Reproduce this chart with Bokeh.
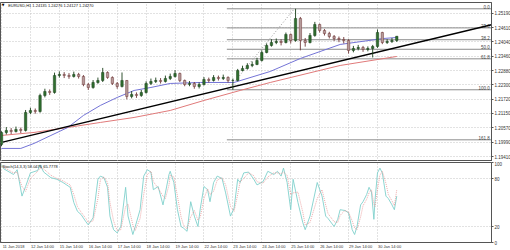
from bokeh.plotting import figure
from bokeh.models import Range1d, FixedTicker, Grid, Label, PrintfTickFormatter
from bokeh.layouts import column
from bokeh.embed import file_html
from bokeh.resources import INLINE
from bokeh.core.properties import value

# ---------------- data ----------------
# hour index since first bar (11 Jan 2018 14:00), one candle per 4 hours
bar_hours = [4 * i for i in range(83)]
first_open = 1.19900
closes = [1.20382, 1.20463, 1.20423, 1.20504, 1.20463, 1.21190, 1.21271, 1.21231, 1.21877, 1.22039,
          1.21998, 1.22685, 1.22726, 1.22685, 1.22645, 1.22726, 1.22645, 1.22322, 1.22200, 1.22402,
          1.22483, 1.22806, 1.22604, 1.22362, 1.22241, 1.22483, 1.21837, 1.21918, 1.21877, 1.21998,
          1.22362, 1.22443, 1.22483, 1.22443, 1.22564, 1.22645, 1.22766, 1.22483, 1.22322, 1.22362,
          1.22241, 1.22322, 1.22524, 1.22483, 1.22604, 1.22564, 1.22604, 1.22483, 1.22483, 1.22887,
          1.22968, 1.23089, 1.23130, 1.23291, 1.23614, 1.23897, 1.24018, 1.24059, 1.24018, 1.24342,
          1.24099, 1.24988, 1.24099, 1.24018, 1.24301, 1.24746, 1.24503, 1.24382, 1.24261, 1.24180,
          1.24140, 1.24099, 1.23695, 1.23776, 1.23816, 1.23736, 1.23776, 1.23857, 1.24422, 1.24018,
          1.24059, 1.24099, 1.24270]
highs = [1.20430, 1.20600, 1.20560, 1.20620, 1.20580, 1.21290, 1.21380, 1.21350, 1.21950, 1.22150,
         1.22120, 1.22800, 1.22850, 1.22820, 1.22780, 1.22840, 1.22790, 1.22700, 1.22380, 1.22500,
         1.22600, 1.22990, 1.22850, 1.22650, 1.22420, 1.22806, 1.22500, 1.22050, 1.22000, 1.22100,
         1.22450, 1.22560, 1.22600, 1.22580, 1.22680, 1.22760, 1.22900, 1.22800, 1.22520, 1.22460,
         1.22420, 1.22400, 1.22620, 1.22600, 1.22700, 1.22680, 1.22720, 1.22650, 1.22560, 1.22950,
         1.23080, 1.23180, 1.23250, 1.23400, 1.23700, 1.23980, 1.24150, 1.24180, 1.24150, 1.24420,
         1.24380, 1.25380, 1.25050, 1.24200, 1.24400, 1.24850, 1.24780, 1.24560, 1.24450, 1.24320,
         1.24260, 1.24240, 1.24150, 1.23880, 1.23920, 1.23880, 1.23860, 1.23920, 1.24543, 1.24450,
         1.24150, 1.24200, 1.24276]
lows = [1.19830, 1.20300, 1.20320, 1.20380, 1.20360, 1.20420, 1.21120, 1.21140, 1.21180, 1.21800,
        1.21900, 1.21950, 1.22600, 1.22580, 1.22550, 1.22600, 1.22560, 1.22250, 1.22100, 1.22150,
        1.22350, 1.22420, 1.22550, 1.22300, 1.22150, 1.22200, 1.21720, 1.21760, 1.21780, 1.21820,
        1.21950, 1.22300, 1.22380, 1.22360, 1.22400, 1.22500, 1.22600, 1.22420, 1.22250, 1.22250,
        1.22150, 1.22160, 1.22280, 1.22400, 1.22440, 1.22480, 1.22500, 1.22400, 1.22107, 1.22450,
        1.22850, 1.22920, 1.23020, 1.23100, 1.23250, 1.23580, 1.23850, 1.23950, 1.23900, 1.23980,
        1.23978, 1.24050, 1.23700, 1.23850, 1.23980, 1.24250, 1.24420, 1.24300, 1.24180, 1.24080,
        1.24030, 1.23980, 1.23570, 1.23620, 1.23700, 1.23640, 1.23660, 1.23412, 1.23800, 1.23950,
        1.23960, 1.24000, 1.24040]

blue_ma_hours = [0, 16, 27, 41, 55, 68, 82, 96, 110, 124, 140, 165, 193, 223, 248, 281, 317, 328]
blue_ma = [1.19736, 1.19736, 1.19938, 1.20261, 1.20584, 1.21069, 1.21473, 1.21796, 1.22079, 1.22200,
           1.22362, 1.22402, 1.22402, 1.22847, 1.23372, 1.23938, 1.24180, 1.24220]
red_ma_hours = [0, 27, 55, 82, 110, 140, 168, 198, 223, 281, 328]
red_ma = [1.20261, 1.20382, 1.20584, 1.20786, 1.20988, 1.21271, 1.21675, 1.22079, 1.22402, 1.23089, 1.23453]

trend_hours = [1, 406.6]
trend_prices = [1.19991, 1.24733]

fib_ratios = [0.0, 23.6, 38.2, 50.0, 61.8, 100.0, 161.8]
fib_high, fib_low = 1.25380, 1.22107
fib_low_hour, fib_high_hour = 188, 243

price_ticks = [1.19410, 1.19990, 1.20570, 1.21150, 1.21720, 1.22300, 1.22880,
               1.23460, 1.24040, 1.24610, 1.25190]
last_price = 1.24270

day_ticks = [0, 24, 48, 72, 96, 120, 144, 168, 192, 216, 240, 264, 288, 312]
day_labels = ["11 Jan 2018", "12 Jan 14:00", "15 Jan 14:00", "16 Jan 14:00", "17 Jan 14:00",
              "18 Jan 14:00", "19 Jan 14:00", "22 Jan 14:00", "23 Jan 14:00", "24 Jan 14:00",
              "25 Jan 14:00", "26 Jan 14:00", "29 Jan 14:00", "30 Jan 14:00"]

stoch_hours = [0, 2, 10, 13, 17, 20, 24, 30, 32, 35, 41, 46, 51, 57, 60, 63, 66, 70, 72, 76,
               80, 82, 85, 88, 90, 93, 96, 99, 103, 105, 109, 111, 115, 118, 121, 124, 126, 130, 134, 136,
               139, 140, 143, 146, 149, 151, 154, 157, 160, 163, 165, 168, 171, 173, 176, 179, 183, 186, 190, 193,
               196, 198, 201, 205, 209, 212, 217, 221, 226, 229, 232, 234, 237, 240, 242, 246, 250, 252, 256, 262,
               266, 269, 271, 276, 279, 281, 285, 288, 291, 293, 295, 298, 300, 303, 305, 307, 309, 310, 312, 314,
               316, 319, 321, 324, 326, 328]
stoch_k = [97, 92, 85, 91, 58, 70, 87, 90, 97, 88, 81, 79, 75, 69, 50, 39, 35, 26, 22, 31,
           79, 83, 81, 69, 33, 16, 12, 20, 69, 33, 10, 20, 41, 83, 91, 88, 66, 70, 47, 62,
           85, 89, 75, 41, 20, 18, 14, 51, 33, 20, 43, 70, 66, 51, 75, 83, 80, 62, 33, 43,
           79, 75, 87, 88, 80, 72, 76, 89, 85, 89, 83, 93, 75, 41, 79, 50, 25, 16, 33, 75,
           58, 33, 30, 20, 29, 41, 40, 37, 16, 10, 20, 47, 51, 60, 69, 63, 29, 54, 87, 93,
           87, 58, 55, 47, 41, 58]
stoch_d = [95, 94, 87, 88, 70, 64, 80, 89, 93, 92, 84, 80, 77, 72, 60, 45, 38, 30, 25, 27,
           55, 78, 82, 75, 50, 27, 15, 16, 45, 48, 22, 15, 30, 60, 85, 89, 76, 68, 58, 55,
           72, 84, 82, 58, 32, 22, 17, 32, 40, 28, 32, 55, 67, 60, 64, 78, 81, 72, 45, 39,
           60, 76, 80, 87, 84, 76, 74, 82, 87, 87, 86, 88, 84, 60, 62, 63, 38, 22, 25, 55,
           66, 47, 36, 26, 25, 34, 40, 38, 27, 18, 16, 32, 46, 54, 62, 66, 48, 45, 66, 84,
           89, 74, 60, 52, 46, 66]
stoch_levels = [0, 20, 80, 100]

# ---------------- derived ----------------
opens = [first_open] + closes[:-1]
bull = [c >= o for o, c in zip(opens, closes)]
body_top = [max(o, c) for o, c in zip(opens, closes)]
body_bot = [min(o, c) for o, c in zip(opens, closes)]
fill_cols = ["#2f6f2f" if b else "#b59a9a" for b in bull]
line_cols = ["#1a3f1a" if b else "#6e3535" for b in bull]
fib_prices = [fib_high - r / 100.0 * (fib_high - fib_low) for r in fib_ratios]
fib_texts = ["%.1f" % r for r in fib_ratios]

FONT = "Liberation Sans"
GRID = "#c4c4c4"
X0, X1 = -0.83, 406.6
xr = Range1d(X0, X1)

# ---------------- main panel ----------------
p = figure(frame_width=491, frame_height=159, x_range=xr, y_range=Range1d(1.19208, 1.25634),
           y_axis_location="right", x_axis_location=None, toolbar_location=None,
           output_backend="svg", min_border_left=0, min_border_top=2, min_border_bottom=0,
           min_border_right=0, outline_line_color="#555555", background_fill_color="white",
           border_fill_color="white")
p.grid.visible = False
p.add_layout(Grid(dimension=0, ticker=FixedTicker(ticks=day_ticks), grid_line_color=GRID,
                  grid_line_dash="1 2"))
p.add_layout(Grid(dimension=1, ticker=FixedTicker(ticks=price_ticks), grid_line_color=GRID,
                  grid_line_dash="1 2"))
ya = p.yaxis[0]
ya.ticker = FixedTicker(ticks=price_ticks)
ya.formatter = PrintfTickFormatter(format="%.5f")
ya.major_label_text_font = FONT
ya.major_label_text_font_size = "4.5px"
ya.major_label_text_color = "#333333"
ya.major_tick_out = 2
ya.major_tick_in = 0
ya.minor_tick_line_color = None
ya.major_label_standoff = 1
ya.axis_line_color = "#555555"
ya.major_tick_line_color = "#555555"

# fibonacci
p.segment(x0=fib_low_hour - 1, x1=X1, y0=fib_prices, y1=fib_prices, line_color="#8c8c8c", line_width=1)
p.segment(x0=[fib_low_hour], y0=[fib_low], x1=[fib_high_hour], y1=[fib_high], line_color="#9a9a9a",
          line_dash="1 2", line_width=1)
p.text(x=X1 - 1.5, y=fib_prices, text=fib_texts, text_align="right", text_baseline="bottom",
       text_font=value(FONT), text_font_size="4.5px", text_color="#444444")

# moving averages and trend line
p.line(red_ma_hours, red_ma, line_color="#e07a7a", line_width=1)
p.line(blue_ma_hours, blue_ma, line_color="#7474d6", line_width=1)
p.line(trend_hours, trend_prices, line_color="black", line_width=1.4)

# candles
p.segment(x0=bar_hours, x1=bar_hours, y0=lows, y1=highs, line_color=line_cols, line_width=0.9)
p.vbar(x=bar_hours, width=2.0, top=body_top, bottom=body_bot, fill_color=fill_cols,
       line_color=line_cols, line_width=0.5)

p.add_layout(Label(x=X1, y=last_price, text="%.5f" % last_price, x_offset=1.5, text_align="left",
                   text_baseline="middle", text_color="white", background_fill_color="black",
                   text_font=FONT, text_font_size="4.5px"))
p.add_layout(Label(x=0.2, y=1.2553, text="\u25BC", text_font="DejaVu Sans", text_font_size="3.5px",
                   text_baseline="middle", text_color="black"))
p.add_layout(Label(x=5.5, y=1.2553, text="EURUSD,H1  1.24135 1.24276 1.24127 1.24270",
                   text_font=FONT, text_font_size="4px", text_baseline="middle", text_color="#111111"))

# ---------------- stochastic panel ----------------
q = figure(frame_width=491, frame_height=80, x_range=xr, y_range=Range1d(0, 100),
           y_axis_location="right", toolbar_location=None, output_backend="svg",
           min_border_left=0, min_border_top=1, min_border_bottom=0, min_border_right=0,
           outline_line_color="#555555", background_fill_color="white", border_fill_color="white")
q.grid.visible = False
q.add_layout(Grid(dimension=0, ticker=FixedTicker(ticks=day_ticks), grid_line_color=GRID,
                  grid_line_dash="1 2"))
q.add_layout(Grid(dimension=1, ticker=FixedTicker(ticks=[20, 80]), grid_line_color=GRID,
                  grid_line_dash="1 2"))
qy = q.yaxis[0]
qy.ticker = FixedTicker(ticks=stoch_levels)
qy.major_label_text_font = FONT
qy.major_label_text_font_size = "4.5px"
qy.major_label_text_color = "#333333"
qy.major_tick_out = 2
qy.major_tick_in = 0
qy.minor_tick_line_color = None
qy.major_label_standoff = 1
qy.axis_line_color = "#555555"
qy.major_tick_line_color = "#555555"

label_centers = [t + 10 for t in day_ticks]
qx = q.xaxis[0]
qx.ticker = FixedTicker(ticks=label_centers)
qx.major_label_overrides = {c: s for c, s in zip(label_centers, day_labels)}
qx.major_label_text_font = FONT
qx.major_label_text_font_size = "4px"
qx.major_label_text_color = "#333333"
qx.major_tick_line_color = None
qx.minor_tick_line_color = None
qx.major_tick_out = 0
qx.major_tick_in = 0
qx.major_label_standoff = 1
qx.axis_line_color = "#555555"

q.line(stoch_hours, stoch_k, line_color="#7fd0cc", line_width=0.9)
q.line(stoch_hours, stoch_d, line_color="#e88a8a", line_width=0.9, line_dash="1 1", line_alpha=0.8)
q.add_layout(Label(x=0.8, y=95.5, text="Stoch(14,3,3) 58.0476 65.7778", text_font=FONT,
                   text_font_size="4px", text_baseline="middle", text_color="#111111"))

layout = column(p, q, spacing=0)
open("out.html", "w").write(file_html(layout, INLINE))
